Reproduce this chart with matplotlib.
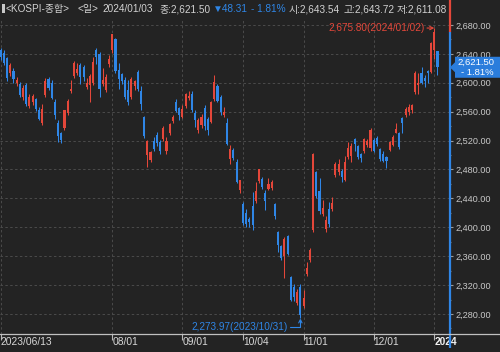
import numpy as np
import matplotlib
matplotlib.use("Agg")
import matplotlib.pyplot as plt
from matplotlib.patches import Polygon, Rectangle
from matplotlib.lines import Line2D
from matplotlib.ticker import MultipleLocator, FuncFormatter
from matplotlib.transforms import IdentityTransform

FONT = ["Liberation Sans", "Noto Sans CJK KR", "DejaVu Sans"]
plt.rcParams["font.family"] = FONT

BG = "#232323"
RED = "#e4473a"
BLUE = "#2f86e6"
GRAY_TXT = "#d2d2d2"

# KOSPI daily candles, 2023/06/13 .. 2024/01/03
dates = [
    "2023/06/13", "2023/06/14", "2023/06/15", "2023/06/16", "2023/06/19", "2023/06/20",
    "2023/06/21", "2023/06/22", "2023/06/23", "2023/06/26", "2023/06/27", "2023/06/28",
    "2023/06/29", "2023/06/30",
    "2023/07/03", "2023/07/04", "2023/07/05", "2023/07/06", "2023/07/07", "2023/07/10",
    "2023/07/11", "2023/07/12", "2023/07/13", "2023/07/14", "2023/07/17", "2023/07/18",
    "2023/07/19", "2023/07/20", "2023/07/21", "2023/07/24", "2023/07/25", "2023/07/26",
    "2023/07/27", "2023/07/28", "2023/07/31",
    "2023/08/01", "2023/08/02", "2023/08/03", "2023/08/04", "2023/08/07", "2023/08/08",
    "2023/08/09", "2023/08/10", "2023/08/11", "2023/08/14", "2023/08/16", "2023/08/17",
    "2023/08/18", "2023/08/21", "2023/08/22", "2023/08/23", "2023/08/24", "2023/08/25",
    "2023/08/28", "2023/08/29", "2023/08/30", "2023/08/31",
    "2023/09/01", "2023/09/04", "2023/09/05", "2023/09/06", "2023/09/07", "2023/09/08",
    "2023/09/11", "2023/09/12", "2023/09/13", "2023/09/14", "2023/09/15", "2023/09/18",
    "2023/09/19", "2023/09/20", "2023/09/21", "2023/09/22", "2023/09/25", "2023/09/26",
    "2023/09/27",
    "2023/10/04", "2023/10/05", "2023/10/06", "2023/10/10", "2023/10/11", "2023/10/12",
    "2023/10/13", "2023/10/16", "2023/10/17", "2023/10/18", "2023/10/19", "2023/10/20",
    "2023/10/23", "2023/10/24", "2023/10/25", "2023/10/26", "2023/10/27", "2023/10/30",
    "2023/10/31",
    "2023/11/01", "2023/11/02", "2023/11/03", "2023/11/06", "2023/11/07", "2023/11/08",
    "2023/11/09", "2023/11/10", "2023/11/13", "2023/11/14", "2023/11/15", "2023/11/16",
    "2023/11/17", "2023/11/20", "2023/11/21", "2023/11/22", "2023/11/23", "2023/11/24",
    "2023/11/27", "2023/11/28", "2023/11/29", "2023/11/30",
    "2023/12/01", "2023/12/04", "2023/12/05", "2023/12/06", "2023/12/07", "2023/12/08",
    "2023/12/11", "2023/12/12", "2023/12/13", "2023/12/14", "2023/12/15", "2023/12/18",
    "2023/12/19", "2023/12/20", "2023/12/21", "2023/12/22", "2023/12/26", "2023/12/27",
    "2023/12/28",
    "2024/01/02", "2024/01/03",
]

opens = [
    2645, 2641, 2634, 2613, 2617, 2600, 2598, 2580, 2597, 2568, 2573, 2577, 2563, 2545,
    2583, 2605, 2600, 2573, 2545, 2530, 2537, 2558, 2588, 2610, 2614, 2625, 2622, 2594,
    2597, 2600, 2646, 2640, 2598, 2590, 2626,
    2645, 2660, 2618, 2612, 2604, 2590, 2580, 2596, 2615, 2588, 2553, 2500, 2493, 2520,
    2528, 2518, 2522, 2505, 2530, 2547, 2573, 2565,
    2553, 2568, 2579, 2585, 2558, 2535, 2541, 2565, 2550, 2546, 2578, 2595, 2580, 2556,
    2545, 2495, 2507, 2490, 2452,
    2432, 2420, 2411, 2430, 2436, 2464, 2467, 2448, 2453, 2454, 2432, 2393, 2374, 2360,
    2388, 2331, 2318, 2295, 2318,
    2291, 2335, 2355, 2396, 2477, 2450, 2418, 2398, 2425, 2425, 2472, 2476, 2478, 2466,
    2497, 2498, 2522, 2512, 2501, 2505, 2514, 2510,
    2521, 2524, 2508, 2501, 2497, 2507, 2514, 2531, 2530, 2551, 2555, 2560, 2562, 2587,
    2597, 2614, 2607, 2616, 2615,
    2645, 2643.54,
]
highs = [
    2648, 2645, 2636, 2628, 2620, 2608, 2601, 2597, 2600, 2584, 2584, 2579, 2566, 2571,
    2606, 2608, 2604, 2577, 2548, 2532, 2563, 2577, 2604, 2630, 2628, 2628, 2625, 2606,
    2612, 2636, 2648, 2642, 2620, 2612, 2638,
    2668, 2662, 2627, 2614, 2608, 2604, 2608, 2604, 2618, 2595, 2554, 2521, 2506, 2525,
    2532, 2521, 2540, 2525, 2545, 2556, 2578, 2567,
    2569, 2586, 2588, 2588, 2562, 2551, 2557, 2569, 2553, 2575, 2611, 2598, 2583, 2567,
    2551, 2514, 2510, 2495, 2466,
    2435, 2426, 2414, 2449, 2463, 2480, 2469, 2452, 2468, 2466, 2434, 2395, 2376, 2386,
    2390, 2333, 2322, 2314, 2322,
    2313, 2352, 2371, 2503, 2478, 2468, 2438, 2415, 2435, 2442, 2490, 2494, 2480, 2498,
    2518, 2516, 2524, 2514, 2503, 2523, 2522, 2537,
    2523, 2526, 2510, 2505, 2499, 2519, 2528, 2544, 2532, 2552, 2566, 2570, 2571, 2616,
    2613, 2622, 2611, 2618, 2656,
    2675.80, 2643.72,
]
lows = [
    2632, 2624, 2603, 2610, 2600, 2596, 2580, 2576, 2568, 2565, 2569, 2561, 2548, 2541,
    2581, 2590, 2577, 2550, 2518, 2516, 2535, 2555, 2586, 2607, 2611, 2598, 2603, 2591,
    2573, 2597, 2626, 2581, 2596, 2587, 2622,
    2641, 2613, 2592, 2599, 2578, 2569, 2578, 2590, 2589, 2562, 2523, 2484, 2490, 2506,
    2512, 2502, 2520, 2502, 2528, 2545, 2559, 2548,
    2551, 2565, 2576, 2560, 2539, 2530, 2538, 2535, 2528, 2544, 2575, 2573, 2555, 2553,
    2514, 2488, 2493, 2462, 2447,
    2403, 2400, 2401, 2396, 2434, 2462, 2453, 2424, 2451, 2451, 2412, 2366, 2355, 2330,
    2362, 2298, 2298, 2292, 2273.97,
    2288, 2333, 2352, 2393, 2440, 2419, 2415, 2394, 2401, 2422, 2470, 2472, 2463, 2464,
    2495, 2491, 2505, 2495, 2491, 2503, 2511, 2505,
    2504, 2512, 2492, 2490, 2482, 2505, 2512, 2530, 2509, 2530, 2553, 2555, 2558, 2585,
    2584, 2598, 2594, 2600, 2613,
    2633, 2611.08,
]
closes = [
    2636, 2628, 2606, 2625, 2605, 2604, 2583, 2593, 2570, 2581, 2582, 2564, 2550, 2564,
    2602, 2593, 2579, 2556, 2527, 2521, 2562, 2575, 2591, 2628, 2619, 2608, 2608, 2600,
    2610, 2629, 2636, 2592, 2604, 2608, 2633,
    2667, 2616, 2605, 2603, 2581, 2574, 2605, 2602, 2591, 2571, 2526, 2520, 2504, 2509,
    2516, 2505, 2538, 2519, 2543, 2552, 2561, 2556,
    2564, 2584, 2582, 2563, 2548, 2548, 2553, 2540, 2535, 2573, 2601, 2575, 2560, 2559,
    2515, 2508, 2496, 2463, 2465,
    2406, 2404, 2408, 2403, 2450, 2480, 2456, 2436, 2460, 2463, 2416, 2375, 2357, 2384,
    2363, 2299, 2303, 2311, 2278,
    2302, 2343, 2368, 2502, 2444, 2422, 2427, 2410, 2404, 2433, 2487, 2488, 2470, 2491,
    2510, 2512, 2515, 2497, 2496, 2522, 2520, 2535,
    2505, 2515, 2495, 2492, 2492, 2518, 2525, 2536, 2511, 2544, 2564, 2567, 2569, 2614,
    2600, 2599.5, 2602.6, 2613.5, 2655.3,
    2669.81, 2621.50,
]

tick_dates = ["2023/06/13", "2023/08/01", "2023/09/01", "2023/10/04",
              "2023/11/01", "2023/12/01", "2024/01/02"]
tick_labels = ["2023/06/13", "08/01", "09/01", "10/04", "11/01", "12/01", "2024"]
price_ticks = list(range(2280, 2681, 40))

# header pieces: text, colour key, left x in the reference (px)
title_parts = ["<KOSPI-종합>", "<일>", "2024/01/03", "종:2,621.50", "▼48.31",
               "- 1.81%", "시:2,643.54", "고:2,643.72", "저:2,611.08"]
title_kind = ["g", "g", "g", "g", "b", "b", "g", "g", "g"]
title_x = [6, 78, 102, 159, 208, 250, 288, 343, 397]

o = np.array(opens, dtype=float)
h = np.array(highs, dtype=float)
l = np.array(lows, dtype=float)
c = np.array(closes, dtype=float)
x = np.arange(len(dates))
colors = np.where(c >= o, RED, BLUE)

W, H = 500, 352
fig = plt.figure(figsize=(W / 100, H / 100), dpi=100, facecolor=BG)
ax = fig.add_axes([0, 18 / H, 449 / W, 316 / H], facecolor=BG)

ax.vlines(x, l, h, colors=colors, lw=0.75, zorder=3)
ax.bar(x, np.maximum(np.abs(c - o), 0.9), bottom=np.minimum(o, c), width=0.66,
       color=colors, lw=0, zorder=4)

ax.set_xlim(-0.22, 140.62)
ax.set_ylim(2252.3, 2689.7)

ax.set_xticks([dates.index(d) for d in tick_dates])
ax.set_xticklabels(tick_labels, ha="left")
ax.set_yticks(price_ticks)
ax.yaxis.set_minor_locator(MultipleLocator(20))
ax.yaxis.set_major_formatter(FuncFormatter(lambda v, p: f"{v:,.2f}"))
ax.yaxis.tick_right()
ax.grid(True, which="major", color="#4b4b4b", ls=(0, (2.5, 2.5)), lw=0.7)
ax.set_axisbelow(True)
for s in ax.spines.values():
    s.set_visible(False)

ax.tick_params(axis="x", direction="out", length=4.5, width=0.8, color="#b8b8b8",
               labelcolor="#d8d8d8", labelsize=7.4, pad=-2.0)
ax.tick_params(axis="y", which="major", direction="out", length=3, width=0.8,
               color="#9a9a9a", labelcolor="#c8c8c8", labelsize=6.6, pad=1.5)
ax.tick_params(axis="y", which="minor", direction="out", length=1.5, width=0.8,
               color="#7a7a7a")
last = ax.get_xticklabels()[-1]
last.set_fontweight("bold")
last.set_color("#f0f0f0")

# axis base line across the full width
yb = 18 / H
fig.add_artist(Line2D([0, 1], [yb, yb], transform=fig.transFigure,
                      color="#c0c0c0", lw=0.9))

# right-edge bar: red above previous close, blue below
prev_close = c[-2]
y0, y1 = ax.get_ylim()
span = y1 - y0
ax.plot([1.002, 1.002], [prev_close, y1 + span * 0.06], color=RED, lw=1.6,
        transform=ax.get_yaxis_transform(), clip_on=False, solid_capstyle="butt",
        zorder=5)
ax.plot([1.002, 1.002], [y0 - span * 0.045, prev_close], color=BLUE, lw=1.6,
        transform=ax.get_yaxis_transform(), clip_on=False, solid_capstyle="butt",
        zorder=5)

# high / low annotations
hi = int(np.argmax(h))
lo = int(np.argmin(l))
ax.annotate(f"{h[hi]:,.2f}({dates[hi]})", xy=(hi, h[hi]), xytext=(-10, 0),
            textcoords="offset pixels", ha="right", va="center", color=RED,
            fontsize=7.2,
            arrowprops=dict(arrowstyle="->", color=RED, lw=0.8, shrinkA=0,
                            shrinkB=0, mutation_scale=6))
ax.annotate(f"{l[lo]:,.2f}({dates[lo]})", xy=(lo, l[lo]), xytext=(-13, -9),
            textcoords="offset pixels", ha="right", va="center", color=BLUE,
            fontsize=7.2,
            arrowprops=dict(arrowstyle="->", color=BLUE, lw=0.8, shrinkA=0,
                            shrinkB=0, mutation_scale=6,
                            connectionstyle="angle,angleA=0,angleB=90,rad=0"))

# current price box on the price axis
fig.canvas.draw()
renderer = fig.canvas.get_renderer()
yc = ax.transData.transform((0, c[-1]))[1]
box = Polygon([(450, yc), (455, yc + 5), (455, yc + 10.5), (500, yc + 10.5),
               (500, yc - 10.5), (455, yc - 10.5), (455, yc - 5)],
              closed=True, transform=IdentityTransform(), facecolor="#2b7ddc",
              edgecolor="none", zorder=10)
fig.add_artist(box)
pct = (c[-1] - c[-2]) / c[-2] * 100
fig.text(494 / W, (yc + 4.8) / H, f"{c[-1]:,.2f}", color="white", fontsize=6.8,
         ha="right", va="center", zorder=11)
fig.text(494 / W, (yc - 4.8) / H, f"- {abs(pct):.2f}%", color="white", fontsize=6.8,
         ha="right", va="center", zorder=11)

# header line, each piece at its reference x but never overlapping the previous one
fig.add_artist(Rectangle((2, H - 13), 2.5, 9, transform=IdentityTransform(),
                         facecolor="#c8c8c8", edgecolor="none"))
ty = (H - 9) / H
prev_end = 0
for s, kind, px in zip(title_parts, title_kind, title_x):
    left = max(px, prev_end + 3)
    t = fig.text(left / W, ty, s, color=BLUE if kind == "b" else GRAY_TXT,
                 fontsize=7.2, ha="left", va="center")
    prev_end = t.get_window_extent(renderer).x1

fig.savefig("out.png", dpi=100, facecolor=BG)
